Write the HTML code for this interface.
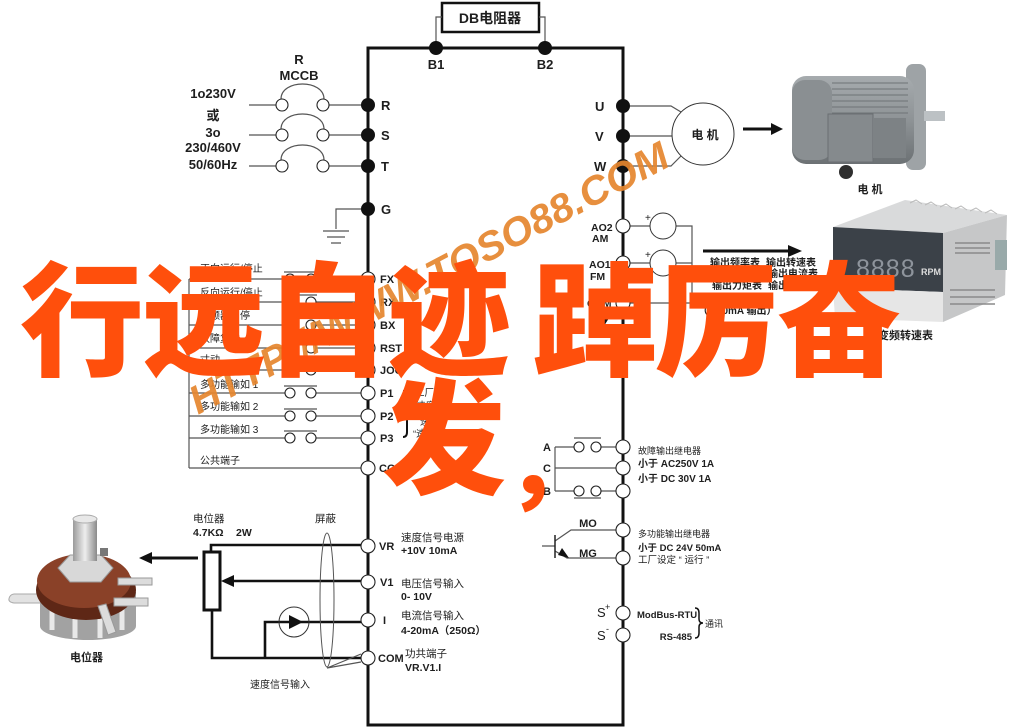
<!DOCTYPE html>
<html><head><meta charset="utf-8">
<style>
html,body{margin:0;padding:0;background:#fff;}
svg{display:block;}
text{font-family:"Liberation Sans","Noto Sans CJK SC",sans-serif;fill:#1e1e1e;}
.b{font-weight:bold;}
.w{stroke:#555;stroke-width:1.2;fill:none;}
.k{stroke:#111;stroke-width:3;fill:none;}
.k2{stroke:#111;stroke-width:2.6;fill:none;}
.t{fill:#fff;stroke:#222;stroke-width:1.1;}
.d{fill:#111;}
.ov{font-family:"Noto Sans CJK SC","WenQuanYi Zen Hei",sans-serif;font-weight:900;font-size:124px;}
</style></head><body>
<svg width="1013" height="728" viewBox="0 0 1013 728">
<defs>
<linearGradient id="mg" x1="0" y1="0" x2="0" y2="1"><stop offset="0" stop-color="#a6abae"/><stop offset="0.5" stop-color="#8e9396"/><stop offset="1" stop-color="#6c7174"/></linearGradient>
<linearGradient id="sg" x1="0" y1="0" x2="1" y2="0"><stop offset="0" stop-color="#9a9a9a"/><stop offset="0.5" stop-color="#eeeeee"/><stop offset="1" stop-color="#8a8a8a"/></linearGradient>
</defs>
<rect width="1013" height="728" fill="#fff"/>

<!-- main box -->
<path class="k" d="M368,48H623V725H368Z"/>

<!-- DB resistor -->
<rect x="442" y="3" width="97" height="29" fill="#fff" stroke="#111" stroke-width="2.5"/>
<text x="490" y="23" class="b" font-size="14" text-anchor="middle">DB电阻器</text>
<path class="w" d="M436,48V17H442M545,48V17H539"/>
<circle class="d" cx="436" cy="48" r="7"/><circle class="d" cx="545" cy="48" r="7"/>
<text x="436" y="69" class="b" font-size="13" text-anchor="middle">B1</text>
<text x="545" y="69" class="b" font-size="13" text-anchor="middle">B2</text>

<!-- supply labels -->
<text x="299" y="64" class="b" font-size="13" text-anchor="middle">R</text>
<text x="299" y="80" class="b" font-size="13" text-anchor="middle">MCCB</text>
<text x="213" y="98" class="b" font-size="13" text-anchor="middle">1o230V</text>
<text x="213" y="120" class="b" font-size="13" text-anchor="middle">或</text>
<text x="213" y="137" class="b" font-size="13" text-anchor="middle">3o</text>
<text x="213" y="152" class="b" font-size="13" text-anchor="middle">230/460V</text>
<text x="213" y="169" class="b" font-size="13" text-anchor="middle">50/60Hz</text>

<!-- breakers -->
<path class="w" d="M249,105H276M329,105H368M281,99C281,79 324,79 324,99"/>
<path class="w" d="M249,135H276M329,135H368M281,129C281,109 324,109 324,129"/>
<path class="w" d="M249,166H276M329,166H368M281,160C281,140 324,140 324,160"/>
<circle class="t" cx="282" cy="105" r="6"/><circle class="t" cx="323" cy="105" r="6"/>
<circle class="t" cx="282" cy="135" r="6"/><circle class="t" cx="323" cy="135" r="6"/>
<circle class="t" cx="282" cy="166" r="6"/><circle class="t" cx="323" cy="166" r="6"/>
<circle class="d" cx="368" cy="105" r="7"/><circle class="d" cx="368" cy="135" r="7"/>
<circle class="d" cx="368" cy="166" r="7"/><circle class="d" cx="368" cy="209" r="7"/>
<text x="381" y="110" class="b" font-size="13">R</text>
<text x="381" y="140" class="b" font-size="13">S</text>
<text x="381" y="171" class="b" font-size="13">T</text>
<text x="381" y="214" class="b" font-size="13">G</text>
<!-- ground -->
<path class="w" d="M361,209H336V229M323,231H349M327,237H345M331,243H341"/>

<!-- U V W -->
<path class="w" d="M623,106H671L681,112M623,136H672M623,166H671L681,156"/>
<circle cx="703" cy="134" r="31" fill="#fff" stroke="#333" stroke-width="1"/>
<text x="705" y="139" class="b" font-size="12" text-anchor="middle">电 机</text>
<circle class="d" cx="623" cy="106" r="7"/><circle class="d" cx="623" cy="136" r="7"/><circle class="d" cx="623" cy="166" r="7"/>
<text x="595" y="111" class="b" font-size="13">U</text>
<text x="595" y="141" class="b" font-size="13">V</text>
<text x="594" y="171" class="b" font-size="13">W</text>
<path d="M743,129H772" stroke="#111" stroke-width="3"/>
<polygon points="771,123 783,129 771,135" fill="#111"/>

<!-- motor picture -->
<rect x="906" y="64" width="20" height="106" rx="7" fill="#9ea3a6"/>
<rect x="924" y="111" width="21" height="10" fill="#bcc1c4"/>
<rect x="792" y="76" width="122" height="88" rx="14" fill="url(#mg)"/>
<rect x="792" y="80" width="40" height="80" rx="13" fill="#8a8f92"/>
<path d="M832,83H908M832,89H908M832,95H908M832,101H908M832,107H908M832,113H908" stroke="#6e7376" stroke-width="1"/>
<rect x="828" y="114" width="45" height="48" fill="#858a8d" stroke="#6a6f72"/>
<rect x="873" y="118" width="33" height="40" fill="#7d8285"/>
<circle cx="846" cy="172" r="7" fill="#2f2f2f"/>
<text x="870" y="193" class="b" font-size="11" text-anchor="middle">电 机</text>

<!-- AO meters -->
<path class="w" d="M630,226H650M676,226H692V303H630M630,263H650M676,263H692"/>
<circle cx="663" cy="226" r="13" fill="#fff" stroke="#333"/>
<circle cx="663" cy="263" r="13" fill="#fff" stroke="#333"/>
<text x="645" y="221" font-size="10">+</text>
<text x="645" y="258" font-size="10">+</text>
<circle class="t" cx="623" cy="226" r="7"/><circle class="t" cx="623" cy="263" r="7"/><circle class="t" cx="623" cy="303" r="7"/>
<text x="591" y="231" class="b" font-size="10.5">AO2</text>
<text x="592" y="242" class="b" font-size="10.5">AM</text>
<text x="589" y="268" class="b" font-size="10.5">AO1</text>
<text x="590" y="280" class="b" font-size="10.5">FM</text>
<text x="587" y="307" class="b" font-size="10.5">COM</text>
<polygon points="600,318 609,318 604,326" fill="#111"/>
<path d="M703,251H790" stroke="#111" stroke-width="3"/>
<polygon points="788,245 802,251 788,257" fill="#111"/>
<text x="710" y="266" class="b" font-size="10">输出频率表</text>
<text x="766" y="266" class="b" font-size="10">输出转速表</text>
<text x="768" y="277" class="b" font-size="10">输出电流表</text>
<text x="712" y="289" class="b" font-size="10">输出力矩表</text>
<text x="768" y="289" class="b" font-size="10">输出电压表</text>
<text x="698" y="314" class="b" font-size="10">（0-20mA 输出）</text>

<!-- RPM meter picture -->
<polygon points="833,227 905,200 1007,215 943,233" fill="#d9dadb"/>
<path d="M910,203l6,-3 6,4M925,205l6,-3 6,4M940,207l6,-3 6,4M955,209l6,-3 6,4M970,211l6,-3 6,4M985,213l6,-3 6,4" stroke="#bbb" fill="none"/>
<polygon points="943,233 1007,215 1005,295 943,322" fill="#c6c7c8"/>
<path d="M955,243H990M955,248H990M955,253H990M950,290H995M950,297H995M950,304H995" stroke="#8a8a8a" stroke-width="1.5"/>
<rect x="995" y="240" width="12" height="30" fill="#9aa"/>
<polygon points="833,227 943,233 943,292 833,288" fill="#3b4148"/>
<polygon points="833,288 943,292 943,322 835,318" fill="#e6e6e6"/>
<text x="856" y="277" font-size="25" letter-spacing="1" style="fill:#8e949c">8888</text>
<text x="921" y="275" class="b" font-size="9" style="fill:#ddd">RPM</text>
<text x="878" y="339" class="b" font-size="11">变频转速表</text>

<!-- digital inputs -->
<path class="w" d="M189,279V468"/>
<path class="w" d="M189,279H285M316,279H361M284,272H317"/>
<path class="w" d="M189,302H285M316,302H361M284,295H317"/>
<path class="w" d="M189,325H285M316,325H361M284,318H317"/>
<path class="w" d="M189,348H285M316,348H361M284,341H317"/>
<path class="w" d="M189,370H285M316,370H361M284,363H317"/>
<path class="w" d="M189,393H285M316,393H361M284,386H317"/>
<path class="w" d="M189,416H285M316,416H361M284,409H317"/>
<path class="w" d="M189,438H285M316,438H361M284,431H317"/>
<path class="w" d="M189,468H361"/>
<g>
<circle class="t" cx="290" cy="279" r="5"/><circle class="t" cx="311" cy="279" r="5"/>
<circle class="t" cx="290" cy="302" r="5"/><circle class="t" cx="311" cy="302" r="5"/>
<circle class="t" cx="290" cy="325" r="5"/><circle class="t" cx="311" cy="325" r="5"/>
<circle class="t" cx="290" cy="348" r="5"/><circle class="t" cx="311" cy="348" r="5"/>
<circle class="t" cx="290" cy="370" r="5"/><circle class="t" cx="311" cy="370" r="5"/>
<circle class="t" cx="290" cy="393" r="5"/><circle class="t" cx="311" cy="393" r="5"/>
<circle class="t" cx="290" cy="416" r="5"/><circle class="t" cx="311" cy="416" r="5"/>
<circle class="t" cx="290" cy="438" r="5"/><circle class="t" cx="311" cy="438" r="5"/>
</g>
<g>
<circle class="t" cx="368" cy="279" r="7"/><circle class="t" cx="368" cy="302" r="7"/>
<circle class="t" cx="368" cy="325" r="7"/><circle class="t" cx="368" cy="348" r="7"/>
<circle class="t" cx="368" cy="370" r="7"/><circle class="t" cx="368" cy="393" r="7"/>
<circle class="t" cx="368" cy="416" r="7"/><circle class="t" cx="368" cy="438" r="7"/>
<circle class="t" cx="368" cy="468" r="7"/>
</g>
<text x="380" y="283" class="b" font-size="11">FX</text>
<text x="380" y="306" class="b" font-size="11">RX</text>
<text x="380" y="329" class="b" font-size="11">BX</text>
<text x="380" y="352" class="b" font-size="11">RST</text>
<text x="380" y="374" class="b" font-size="11">JOG</text>
<text x="380" y="397" class="b" font-size="11">P1</text>
<text x="380" y="420" class="b" font-size="11">P2</text>
<text x="380" y="442" class="b" font-size="11">P3</text>
<text x="379" y="472" class="b" font-size="11">COM</text>
<text x="200" y="272" font-size="10">正向运行/停止</text>
<text x="200" y="296" font-size="10">反向运行/停止</text>
<text x="200" y="319" font-size="10">变频器自停</text>
<text x="200" y="342" font-size="10">故障复位</text>
<text x="200" y="363" font-size="10">寸动</text>
<text x="200" y="388" font-size="10">多功能输如 1</text>
<text x="200" y="410" font-size="10">多功能输如 2</text>
<text x="200" y="433" font-size="10">多功能输如 3</text>
<text x="200" y="464" font-size="10">公共端子</text>
<path d="M403,391q4,0 4,5v13q0,5 4,5q-4,0 -4,5v13q0,5 -4,5" stroke="#111" stroke-width="2" fill="none"/>
<text x="415" y="396" font-size="9.5">工厂设定</text>
<text x="413" y="409" font-size="9.5">“速度1”</text>
<text x="420" y="425" font-size="9.5">速度W</text>
<text x="413" y="437" font-size="9.5">“速度M”</text>

<!-- relay -->
<path class="w" d="M555,447V491M555,447H574M601,447H616M574,438H601M555,468H616M555,491H574M601,491H616M574,498H601"/>
<circle class="t" cx="579" cy="447" r="5"/><circle class="t" cx="596" cy="447" r="5"/>
<circle class="t" cx="579" cy="491" r="5"/><circle class="t" cx="596" cy="491" r="5"/>
<circle class="t" cx="623" cy="447" r="7"/><circle class="t" cx="623" cy="468" r="7"/><circle class="t" cx="623" cy="491" r="7"/>
<text x="547" y="451" class="b" font-size="11" text-anchor="middle">A</text>
<text x="547" y="472" class="b" font-size="11" text-anchor="middle">C</text>
<text x="547" y="495" class="b" font-size="11" text-anchor="middle">B</text>
<text x="638" y="454" font-size="9">故障输出继电器</text>
<text x="638" y="467" class="b" font-size="10">小于 AC250V 1A</text>
<text x="638" y="482" class="b" font-size="10">小于 DC 30V 1A</text>

<!-- transistor -->
<path class="w" d="M542,546H555M555,541L571,530H616M555,551L567,558H616"/>
<path d="M555,535V558" stroke="#222" stroke-width="1.5"/>
<polygon points="569,558 558,555 562,548" fill="#111"/>
<circle class="t" cx="623" cy="530" r="7"/><circle class="t" cx="623" cy="558" r="7"/>
<text x="588" y="527" class="b" font-size="11" text-anchor="middle">MO</text>
<text x="588" y="557" class="b" font-size="11" text-anchor="middle">MG</text>
<text x="638" y="537" font-size="9">多功能输出继电器</text>
<text x="638" y="551" class="b" font-size="9.5">小于 DC 24V 50mA</text>
<text x="638" y="563" font-size="9.5">工厂设定 “ 运行 ”</text>

<!-- comm -->
<circle class="t" cx="623" cy="613" r="7"/><circle class="t" cx="623" cy="635" r="7"/>
<text x="597" y="617" font-size="13">S</text><text x="605" y="610" font-size="9">+</text>
<text x="597" y="640" font-size="13">S</text><text x="606" y="632" font-size="9">-</text>
<text x="637" y="618" class="b" font-size="9.5">ModBus-RTU</text>
<text x="692" y="640" class="b" font-size="9.5" text-anchor="end">RS-485</text>
<path d="M695,608q4,0 4,5v6q0,4 4,4q-4,0 -4,4v6q0,5 -4,5" stroke="#111" stroke-width="1.5" fill="none"/>
<text x="705" y="627" font-size="9">通讯</text>

<!-- analog inputs -->
<path class="k2" d="M361,545H211V552"/>
<rect x="204" y="552" width="16" height="58" fill="#fff" stroke="#111" stroke-width="3"/>
<path class="k2" d="M361,581H230"/>
<polygon points="221,581 234,575 234,587" fill="#111"/>
<path class="k2" d="M212,610V658H361"/>
<path class="k2" d="M361,622H265V658"/>
<circle cx="294" cy="622" r="15" fill="none" stroke="#333" stroke-width="1"/>
<polygon points="289,615 303,622 289,629" fill="#111"/>
<ellipse cx="327" cy="600" rx="7" ry="67" fill="none" stroke="#555" stroke-width="1"/>
<path class="w" d="M327,668L361,662M327,668L361,654"/>
<path d="M198,558H150" stroke="#111" stroke-width="3"/>
<polygon points="139,558 152,552 152,564" fill="#111"/>
<circle class="t" cx="368" cy="546" r="7"/><circle class="t" cx="368" cy="582" r="7"/>
<circle class="t" cx="368" cy="620" r="7"/><circle class="t" cx="368" cy="658" r="7"/>
<text x="379" y="550" class="b" font-size="11">VR</text>
<text x="380" y="586" class="b" font-size="11">V1</text>
<text x="383" y="624" class="b" font-size="11">I</text>
<text x="378" y="662" class="b" font-size="11">COM</text>
<text x="401" y="541" font-size="10.5">速度信号电源</text>
<text x="401" y="554" class="b" font-size="10.5">+10V  10mA</text>
<text x="401" y="587" font-size="10.5">电压信号输入</text>
<text x="401" y="600" class="b" font-size="10.5">0- 10V</text>
<text x="401" y="619" font-size="10.5">电流信号输入</text>
<text x="401" y="634" class="b" font-size="10.5">4-20mA（250Ω）</text>
<text x="405" y="657" font-size="10.5">功共端子</text>
<text x="405" y="671" class="b" font-size="10.5">VR.V1.I</text>
<text x="193" y="522" font-size="10.5">电位器</text>
<text x="193" y="536" class="b" font-size="10.5">4.7KΩ</text>
<text x="236" y="536" class="b" font-size="10.5">2W</text>
<text x="315" y="522" font-size="10.5">屏蔽</text>
<text x="250" y="688" font-size="10">速度信号输入</text>

<!-- potentiometer picture -->
<path d="M14,594h34v9h-34q-6,-1 -5,-4.5q1,-4 5,-4.5z" fill="#e2e2e2" stroke="#aaa"/>
<path d="M40,592v34a48,14 0 0 0 96,0v-34z" fill="#a2a2a2"/>
<path d="M52,605v25M75,610v28M100,610v28M122,605v25" stroke="#e8e8e8" stroke-width="5"/>
<ellipse cx="86" cy="590" rx="50" ry="30" fill="#5e2716"/>
<ellipse cx="84" cy="581" rx="47" ry="27" fill="#8a4128"/>
<path d="M118,578h34v7h-34z M114,598h34v8h-34z" fill="#dcdcdc" stroke="#999"/>
<path d="M98,606l8,-2 10,28 -8,3z" fill="#dcdcdc" stroke="#999"/>
<polygon points="58,568 70,555 101,555 113,568 101,582 70,582" fill="#d8d8d8" stroke="#999"/>
<rect x="73" y="519" width="24" height="42" fill="url(#sg)"/>
<ellipse cx="85" cy="519" rx="12" ry="4" fill="#e8e8e8" stroke="#aaa"/>
<path d="M100,548h8v8h-8z" fill="#777"/>
<text x="70" y="661" class="b" font-size="11">电位器</text>

<!-- watermark -->
<text transform="translate(198,415) rotate(-27.8)" font-size="40" font-weight="bold" font-style="italic" textLength="536" lengthAdjust="spacingAndGlyphs" style="fill:#e6862e;opacity:0.92">HTTP://WWW.TOSO88.COM</text>

<!-- overlay slogan -->
<g style="fill:#ff4f0c">
<text class="ov" x="20" y="366" style="fill:#ff4f0c">行</text>
<text class="ov" x="142" y="366" style="fill:#ff4f0c">远</text>
<text class="ov" x="265" y="366" style="fill:#ff4f0c">自</text>
<text class="ov" x="387" y="366" style="fill:#ff4f0c">迹</text>
<text class="ov" x="533" y="366" style="fill:#ff4f0c">踔</text>
<text class="ov" x="655" y="366" style="fill:#ff4f0c">厉</text>
<text class="ov" x="777" y="366" style="fill:#ff4f0c">奋</text>
<text class="ov" x="382" y="484" style="fill:#ff4f0c">发</text>
<text class="ov" x="505" y="498" style="fill:#ff4f0c;font-size:93px">，</text>
</g>
</svg>
</body></html>
